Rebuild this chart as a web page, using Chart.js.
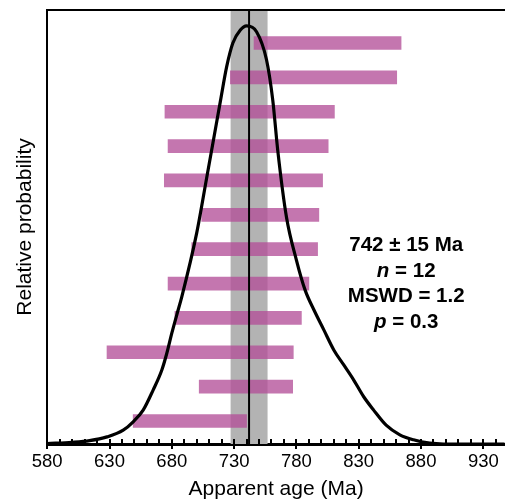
<!DOCTYPE html>
<html lang="en">
<head>
    <meta charset="UTF-8">
    <title>Apparent age probability</title>
    <script src="https://cdn.jsdelivr.net/npm/chart.js"></script>
    <style>
        html, body {
            margin: 0;
            padding: 0;
            background: #fff;
        }
        #wrap {
            width: 505px;
            height: 501px;
        }
    </style>
</head>
<body>
    <div id="wrap"><canvas id="ageChart"></canvas></div>

    <script>
        // grain ages (Ma), listed top to bottom as drawn
        const grainLow  = [746, 727, 674.5, 677, 674, 704, 696, 677, 682.5, 628, 702, 649];
        const grainHigh = [864, 860.5, 810.5, 805.5, 801, 798, 797, 790, 784, 777.5, 777, 740];

        // relative probability curve
        const curveAge  = [580, 600, 614, 628, 641, 649, 657, 665, 672, 676, 680, 684, 688, 700, 708, 713, 719, 724, 729, 735, 740, 748, 756, 761, 765, 772, 780, 787, 794, 802, 810, 818, 826, 834, 842, 852, 863, 874, 887, 898, 947];
        const curveProb = [0.001, 0.004, 0.008, 0.017, 0.033, 0.053, 0.081, 0.129, 0.177, 0.217, 0.265, 0.309, 0.352, 0.505, 0.637, 0.72, 0.82, 0.902, 0.959, 0.99, 1.0, 0.986, 0.919, 0.823, 0.703, 0.543, 0.44, 0.368, 0.321, 0.273, 0.225, 0.189, 0.153, 0.113, 0.081, 0.045, 0.022, 0.01, 0.002, 0, 0];

        // weighted mean result
        const meanAge = 742;
        const meanErr = 15;
        const nGrains = 12;
        const mswd = 1.2;
        const pValue = 0.3;

        // x axis ticks
        const xMin = 580, xMax = 947.4;
        const majorStep = 50, minorStep = 10;

        const yTop = 1.038;
        const FONT = '"Liberation Sans", Arial, Helvetica, sans-serif';

        const n = grainLow.length;
        const barData = grainLow.map((lo, i) => ({ x: [lo, grainHigh[i]], y: n - i }));
        const curveData = curveAge.map((a, i) => ({ x: a, y: curveProb[i] }));
        const isMajor = v => (v - xMin) % majorStep === 0;

        const tickMarks = {
            id: 'tickMarks',
            afterDraw(chart) {
                const ctx = chart.ctx;
                const xs = chart.scales.x;
                const area = chart.chartArea;
                ctx.save();
                ctx.strokeStyle = '#000';
                ctx.lineWidth = 2;
                // top frame line
                ctx.beginPath();
                ctx.moveTo(area.left - 1, area.top);
                ctx.lineTo(area.right, area.top);
                ctx.stroke();
                // minor ticks inside, major ticks across the axis
                ctx.beginPath();
                for (let v = xMin; v <= xMax; v += minorStep) {
                    const px = Math.round(xs.getPixelForValue(v));
                    ctx.moveTo(px, area.bottom - 5);
                    ctx.lineTo(px, isMajor(v) ? area.bottom + 5 : area.bottom);
                }
                ctx.stroke();
                ctx.restore();
            }
        };

        const statsText = {
            id: 'statsText',
            afterDraw(chart) {
                const ctx = chart.ctx;
                const area = chart.chartArea;
                const cx = area.left + 359;
                const lines = [
                    [[meanAge + ' \u00b1 ' + meanErr + ' Ma', false]],
                    [['n', true], [' = ' + nGrains, false]],
                    [['MSWD = ' + mswd.toFixed(1), false]],
                    [['p', true], [' = ' + pValue.toFixed(1), false]]
                ];
                const fontFor = it => (it ? 'italic ' : '') + 'bold 20.5px ' + FONT;
                ctx.save();
                ctx.fillStyle = '#000';
                ctx.textBaseline = 'middle';
                ctx.textAlign = 'left';
                lines.forEach((parts, i) => {
                    let w = 0;
                    parts.forEach(p => { ctx.font = fontFor(p[1]); w += ctx.measureText(p[0]).width; });
                    let x = cx - w / 2;
                    const y = area.top + 235.5 + i * 25.5;
                    parts.forEach(p => {
                        ctx.font = fontFor(p[1]);
                        ctx.fillText(p[0], x, y);
                        x += ctx.measureText(p[0]).width;
                    });
                });
                ctx.restore();
            }
        };

        new Chart(document.getElementById('ageChart'), {
            type: 'line',
            data: {
                datasets: [
                    {
                        label: 'mean',
                        data: [{ x: meanAge, y: 0 }, { x: meanAge, y: yTop }],
                        borderColor: '#000',
                        borderWidth: 2,
                        pointRadius: 0,
                        order: 0
                    },
                    {
                        label: 'probability',
                        data: curveData,
                        borderColor: '#000',
                        borderWidth: 3.2,
                        pointRadius: 0,
                        cubicInterpolationMode: 'monotone',
                        order: 1
                    },
                    {
                        type: 'bar',
                        label: 'grains',
                        indexAxis: 'y',
                        yAxisID: 'yb',
                        data: barData,
                        backgroundColor: 'rgba(180, 80, 152, 0.78)',
                        barThickness: 13,
                        order: 2
                    },
                    {
                        label: 'error band',
                        data: [{ x: meanAge - meanErr, y: yTop }, { x: meanAge + meanErr, y: yTop }],
                        borderWidth: 0,
                        pointRadius: 0,
                        backgroundColor: '#b3b3b3',
                        fill: 'origin',
                        order: 3
                    }
                ]
            },
            options: {
                responsive: true,
                maintainAspectRatio: false,
                animation: false,
                layout: { padding: { left: 7, top: 10, right: 0, bottom: 0 } },
                plugins: {
                    legend: { display: false },
                    tooltip: { enabled: false }
                },
                scales: {
                    x: {
                        type: 'linear',
                        min: xMin,
                        max: xMax,
                        afterBuildTicks(scale) {
                            const t = [];
                            for (let v = xMin; v <= xMax; v += minorStep) t.push({ value: v });
                            scale.ticks = t;
                        },
                        afterFit(scale) {
                            scale.height = 57;
                        },
                        grid: { display: false, drawTicks: false },
                        border: { display: true, color: '#000', width: 3 },
                        ticks: {
                            autoSkip: false,
                            maxRotation: 0,
                            padding: 9,
                            color: '#000',
                            font: { family: FONT, size: 18.5, lineHeight: 1 },
                            callback: v => (isMajor(v) ? String(v) : '')
                        },
                        title: {
                            display: true,
                            text: 'Apparent age (Ma)',
                            color: '#000',
                            font: { family: FONT, size: 21, lineHeight: 1 },
                            padding: { top: 0, bottom: 1 }
                        }
                    },
                    y: {
                        type: 'linear',
                        min: 0,
                        max: yTop,
                        afterFit(scale) {
                            scale.width = 40.2;
                        },
                        grid: { display: false, drawTicks: false },
                        border: { display: true, color: '#000', width: 2 },
                        ticks: { display: false },
                        title: {
                            display: true,
                            text: 'Relative probability',
                            color: '#000',
                            font: { family: FONT, size: 21 },
                            padding: { top: 6, bottom: 9 }
                        }
                    },
                    yb: {
                        type: 'linear',
                        display: false,
                        offset: false,
                        min: 0.331,
                        max: 12.96
                    }
                }
            },
            plugins: [tickMarks, statsText]
        });
    </script>
</body>
</html>
